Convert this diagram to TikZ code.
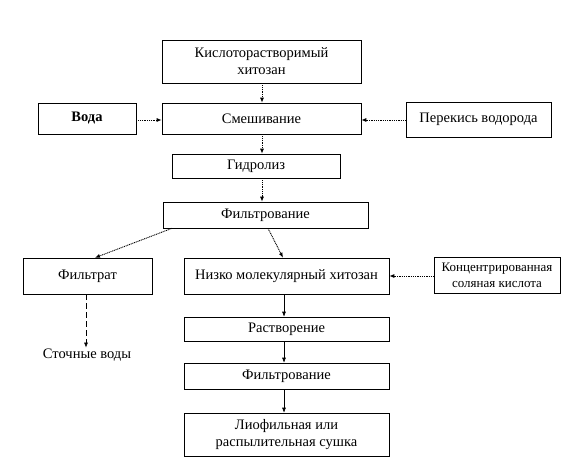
\documentclass[tikz,border=0pt]{standalone}
\usepackage{fontspec}
\setmainfont{Liberation Serif}
\usetikzlibrary{positioning,arrows.meta}
\tikzset{
  stage/.style={draw, line width=0.6pt, fill=white, font=\fontsize{14.5}{17}\selectfont, align=center, inner sep=1pt},
  feed/.style={-{Latex[length=5pt,width=4pt]}, line width=0.9pt, dash pattern=on 1pt off 0.8pt},
  pass/.style={-{Latex[length=5pt,width=4pt]}, line width=0.6pt},
  drain/.style={-{Latex[length=5pt,width=4pt]}, line width=0.6pt, dash pattern=on 6pt off 3pt},
}
\begin{document}
\begin{tikzpicture}[x=1pt, y=-1pt]
\useasboundingbox (0,0) rectangle (562,459);
% main column
\node[stage, minimum width=199pt, minimum height=43pt] (acid) at (261.5,61.5) {Кислоторастворимый\\хитозан};
\node[stage, minimum width=199pt, minimum height=31pt] (mix) at (261.5,118.5) {Смешивание};
\node[stage, minimum width=168pt, minimum height=24pt] (hydro) at (256,166) {Гидролиз};
\node[stage, minimum width=205pt, minimum height=26pt] (filt) at (265.5,215) {Фильтрование};
\node[stage, minimum width=205pt, minimum height=36pt] (lmw) at (286.5,276) {Низко молекулярный хитозан};
\node[stage, minimum width=205pt, minimum height=24pt] (diss) at (286.5,329) {Растворение};
\node[stage, minimum width=205pt, minimum height=26pt] (filtb) at (286.5,376) {Фильтрование};
\node[stage, minimum width=205pt, minimum height=43pt] (dry) at (286.5,434.5) {Лиофильная или\\распылительная сушка};
% side inputs and outputs
\node[stage, minimum width=98pt, minimum height=31pt, font=\fontsize{14.5}{17}\selectfont\bfseries] (water) at (87,118.5) {Вода};
\node[stage, minimum width=145pt, minimum height=35pt] (perox) at (478.5,119.5) {Перекись водорода};
\node[stage, minimum width=129pt, minimum height=36pt] (filtrate) at (87.5,276) {Фильтрат};
\node[stage, minimum width=126pt, minimum height=36pt, font=\fontsize{13}{16}\selectfont] (hcl) at (497,275) {Концентрированная\\соляная кислота};
\node[font=\fontsize{14.5}{17}\selectfont, inner sep=1pt] (waste) at (87,355) {Сточные воды};
% connectors
\draw[feed] (acid.south -| 262,0) -- (mix.north -| 262,0);
\draw[feed] (mix.south -| 262,0) -- (hydro.north -| 262,0);
\draw[feed] (hydro.south -| 262,0) -- (filt.north -| 262,0);
\draw[feed] (water.east |- 0,120) -- (mix.west |- 0,120);
\draw[feed] (perox.west |- 0,120) -- (mix.east |- 0,120);
\draw[feed] (filt.south -| 172,0) -- (filtrate.north -| 95,0);
\draw[feed] (filt.south -| 268,0) -- (lmw.north -| 283,0);
\draw[feed] (hcl.west |- 0,276) -- (lmw.east |- 0,276);
\draw[drain] (filtrate.south -| 86,0) -- (waste.north -| 86,0);
\draw[pass] (lmw.south -| 284,0) -- (diss.north -| 284,0);
\draw[pass] (diss.south -| 284,0) -- (filtb.north -| 284,0);
\draw[pass] (filtb.south -| 284,0) -- (dry.north -| 284,0);
\end{tikzpicture}
\end{document}
